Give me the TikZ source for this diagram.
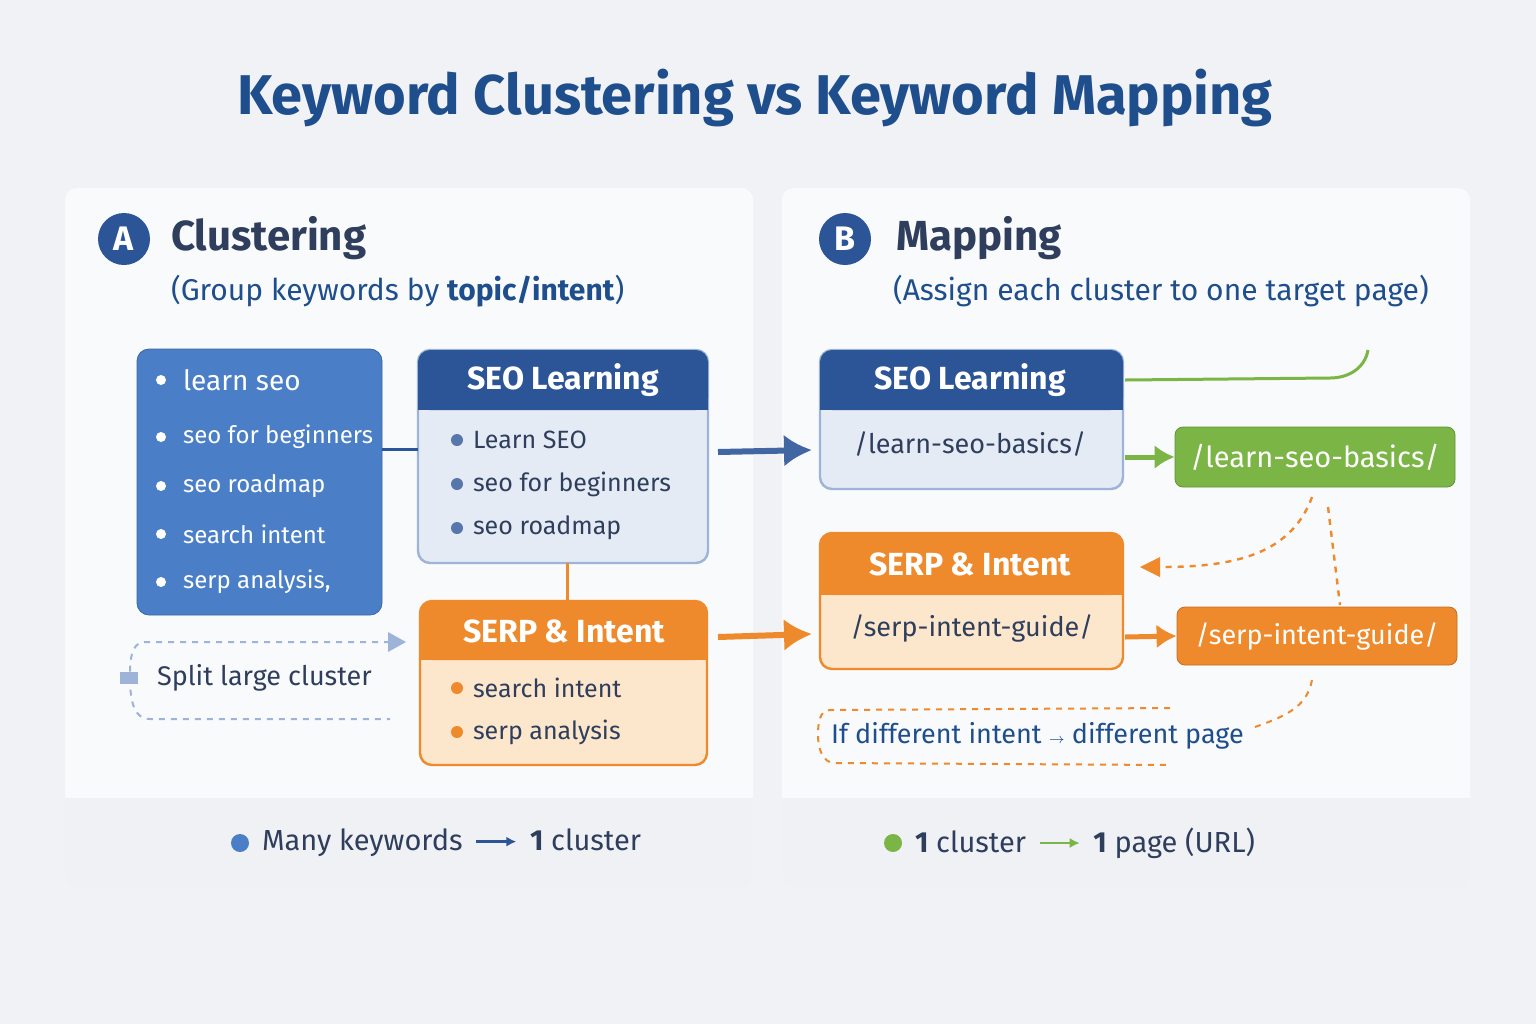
\documentclass[tikz,border=0pt]{standalone}
\usepackage{fontspec}
\setmainfont{Fira Sans}
\usetikzlibrary{arrows.meta,positioning,calc}
\definecolor{bgc}{HTML}{F1F2F5}
\definecolor{panel}{HTML}{F9FAFC}
\definecolor{strip}{HTML}{EFF1F5}
\definecolor{navy}{HTML}{1F4E8C}
\definecolor{hdrblue}{HTML}{2C5597}
\definecolor{kwblue}{HTML}{4A7FC8}
\definecolor{lblue}{HTML}{E4EBF5}
\definecolor{bdblue}{HTML}{9DB4D8}
\definecolor{orng}{HTML}{EE8A2B}
\definecolor{lorng}{HTML}{FCE7CC}
\definecolor{grn}{HTML}{7BB545}
\definecolor{ink}{HTML}{2E3E5C}
\newcommand{\inarr}[1]{\,\tikz[baseline=-0.6ex]\draw[-{Latex[length=5pt,width=5pt]}, line width=1.2pt, #1] (0,0) -- (20pt,0);\,}
\begin{document}
\begin{tikzpicture}[x=0.5pt,y=-0.5pt,
  >=Latex,
  panelbox/.style={fill=panel, rounded corners=6pt},
  hdr/.style={anchor=center, text=white, font=\bfseries\fontsize{16}{19}\selectfont},
  item/.style={anchor=west, font=\fontsize{12.5}{15}\selectfont, text=ink},
  kw/.style={anchor=west, font=\fontsize{12}{15}\selectfont, text=white},
  url/.style={anchor=center, font=\fontsize{13.5}{16}\selectfont, text=ink},
  note/.style={anchor=west, font=\fontsize{13.5}{16}\selectfont}
]
  \useasboundingbox (0,0) rectangle (1536,1024);
  \fill[bgc] (0,0) rectangle (1536,1024);

  % title
  \node[font=\bfseries\fontsize{28}{33}\selectfont, text=navy] (title) at (755,98) {Keyword Clustering vs Keyword Mapping};

  % panels
  \foreach \x in {65,782}{
    \fill[panelbox] (\x,188) rectangle ++(688,700);
    \fill[strip, rounded corners=6pt] (\x,798) rectangle ++(688,90);
    \fill[strip] (\x,798) rectangle ++(688,20);
  }

  % panel A heading
  \node[circle, fill=hdrblue, minimum size=26pt, inner sep=0pt, text=white, font=\bfseries\fontsize{17}{20}\selectfont] (circA) at (124,239) {A};
  \node[anchor=west, font=\bfseries\fontsize{21}{25}\selectfont, text=ink] (headA) at (164,238) {Clustering};
  \node[anchor=west, font=\fontsize{15}{18}\selectfont, text=navy] (subA) at (164,291) {(Group keywords by \textbf{topic/intent})};

  % keyword list
  \fill[kwblue, draw=kwblue!80!black, rounded corners=6pt] (137,349) rectangle (382,615);
  \node[kw, font=\fontsize{14}{17}\selectfont] (k1) at (176,380) {learn seo};
  \foreach \n/\y/\t in {k2/437/seo for beginners, k3/486/seo roadmap, k4/534/search intent, k5/582/{serp analysis,}}
    \node[kw] (\n) at (176,\y) {\t};
  \foreach \y in {380,437,486,534,582}
    \fill[white] (161,\y) circle (5);

  % SEO Learning group
  \fill[lblue, draw=bdblue, line width=1.2pt, rounded corners=6pt] (418,350) rectangle (708,563);
  \fill[hdrblue, rounded corners=6pt] (418,350) rectangle (708,410);
  \fill[hdrblue] (418,390) rectangle (708,410);
  \node[hdr] (g1) at (563,380) {SEO Learning};
  \foreach \n/\y/\t in {g1a/440/Learn SEO, g1b/484/seo for beginners, g1c/528/seo roadmap}{
    \fill[hdrblue!80] (457,\y) circle (6);
    \node[item] (\n) at (466,\y) {\t};
  }

  % SERP group
  \fill[lorng, draw=orng, line width=1.2pt, rounded corners=6pt] (420,601) rectangle (707,765);
  \fill[orng, rounded corners=6pt] (420,601) rectangle (707,660);
  \fill[orng] (420,640) rectangle (707,660);
  \node[hdr] (g2) at (564,631) {SERP \& Intent};
  \foreach \n/\y/\t in {g2a/688/search intent, g2b/732/serp analysis}{
    \fill[orng] (457,\y) circle (6);
    \node[item] (\n) at (466,\y) {\t};
  }

  \draw[hdrblue, line width=1.5pt] (382,449) -- (418,449);
  \draw[orng, line width=1.5pt] (567,563) -- (567,601);

  % split note
  \draw[bdblue, dashed, line width=1pt] (390,642) -- (145,642) to[out=180,in=90] (130,675) to[out=-90,in=180] (150,719) -- (390,719);
  \fill[bdblue] (388,632) -- (406,642) -- (388,652) -- cycle;
  \fill[bdblue] (120,672) rectangle (138,684);
  \node[note, text=ink] (split) at (150,678) {Split large cluster};

  % arrows across
  \draw[-{Latex[length=14pt,width=16pt]}, line width=3pt, color=hdrblue!90] (718,452) -- (812,450);
  \draw[-{Latex[length=14pt,width=16pt]}, line width=3pt, color=orng] (718,637) -- (812,634);

  % panel B heading
  \node[circle, fill=hdrblue, minimum size=26pt, inner sep=0pt, text=white, font=\bfseries\fontsize{17}{20}\selectfont] (circB) at (845,239) {B};
  \node[anchor=west, font=\bfseries\fontsize{21}{25}\selectfont, text=ink] (headB) at (889,238) {Mapping};
  \node[anchor=west, font=\fontsize{15}{18}\selectfont, text=navy] (subB) at (886,291) {(Assign each cluster to one target page)};

  % right SEO Learning
  \fill[lblue, draw=bdblue, line width=1.2pt, rounded corners=6pt] (820,350) rectangle (1123,489);
  \fill[hdrblue, rounded corners=6pt] (820,350) rectangle (1123,410);
  \fill[hdrblue] (820,390) rectangle (1123,410);
  \node[hdr] (m1) at (970,380) {SEO Learning};
  \node[url] (m1u) at (970,444) {/learn-seo-basics/};

  % right SERP
  \fill[lorng, draw=orng, line width=1.2pt, rounded corners=6pt] (820,533) rectangle (1123,669);
  \fill[orng, rounded corners=6pt] (820,533) rectangle (1123,595);
  \fill[orng] (820,575) rectangle (1123,595);
  \node[hdr] (m2) at (970,564) {SERP \& Intent};
  \node[url] (m2u) at (972,628) {/serp-intent-guide/};

  % pages
  \node[fill=grn, draw=grn!80!black, rounded corners=4pt, minimum width=140pt, minimum height=30pt, text=white, font=\fontsize{14.5}{17}\selectfont] (p1) at (1315,457) {/learn-seo-basics/};
  \node[fill=orng, draw=orng!80!black, rounded corners=4pt, minimum width=140pt, minimum height=29pt, text=white, font=\fontsize{13.5}{16}\selectfont] (p2) at (1317,636) {/serp-intent-guide/};

  \draw[-{Latex[length=10pt,width=12pt]}, line width=2.5pt, grn] (1125,457) -- (p1.west);
  \draw[-{Latex[length=10pt,width=12pt]}, line width=2.5pt, orng] (1125,637) -- (p2.west);
  \draw[grn, line width=1.5pt] (1125,380) -- (1330,378) to[out=0,in=-100] (1368,350);

  % intent notes
  \draw[orng, dashed, line width=1.2pt] (1312,497) to[out=-110,in=0] (1160,567);
  \fill[orng] (1160,557) -- (1140,567) -- (1160,577) -- cycle;
  \draw[orng, dashed, line width=1.2pt] (1328,507) -- (1340,605);
  \draw[orng, dashed, line width=1pt] (1170,708) -- (830,710) to[out=180,in=90] (818,735) to[out=-90,in=180] (835,763) -- (1170,765);
  \draw[orng, dashed, line width=1pt] (1255,727) to[out=20,in=-100] (1312,680);
  \node[note, text=navy] (diff) at (824,736) {If different intent {\scriptsize$\to$} different page};

  % footers
  \fill[kwblue] (240,843) circle (9);
  \node[note, text=ink, font=\fontsize{14.5}{17}\selectfont] (fA) at (255,843) {Many keywords \inarr{hdrblue} \textbf{1} cluster};
  \fill[grn] (893,843) circle (9);
  \node[note, text=ink, font=\fontsize{14.5}{17}\selectfont] (fB) at (908,843) {\textbf{1} cluster \inarr{grn} \textbf{1} page (URL)};
\end{tikzpicture}
\end{document}
